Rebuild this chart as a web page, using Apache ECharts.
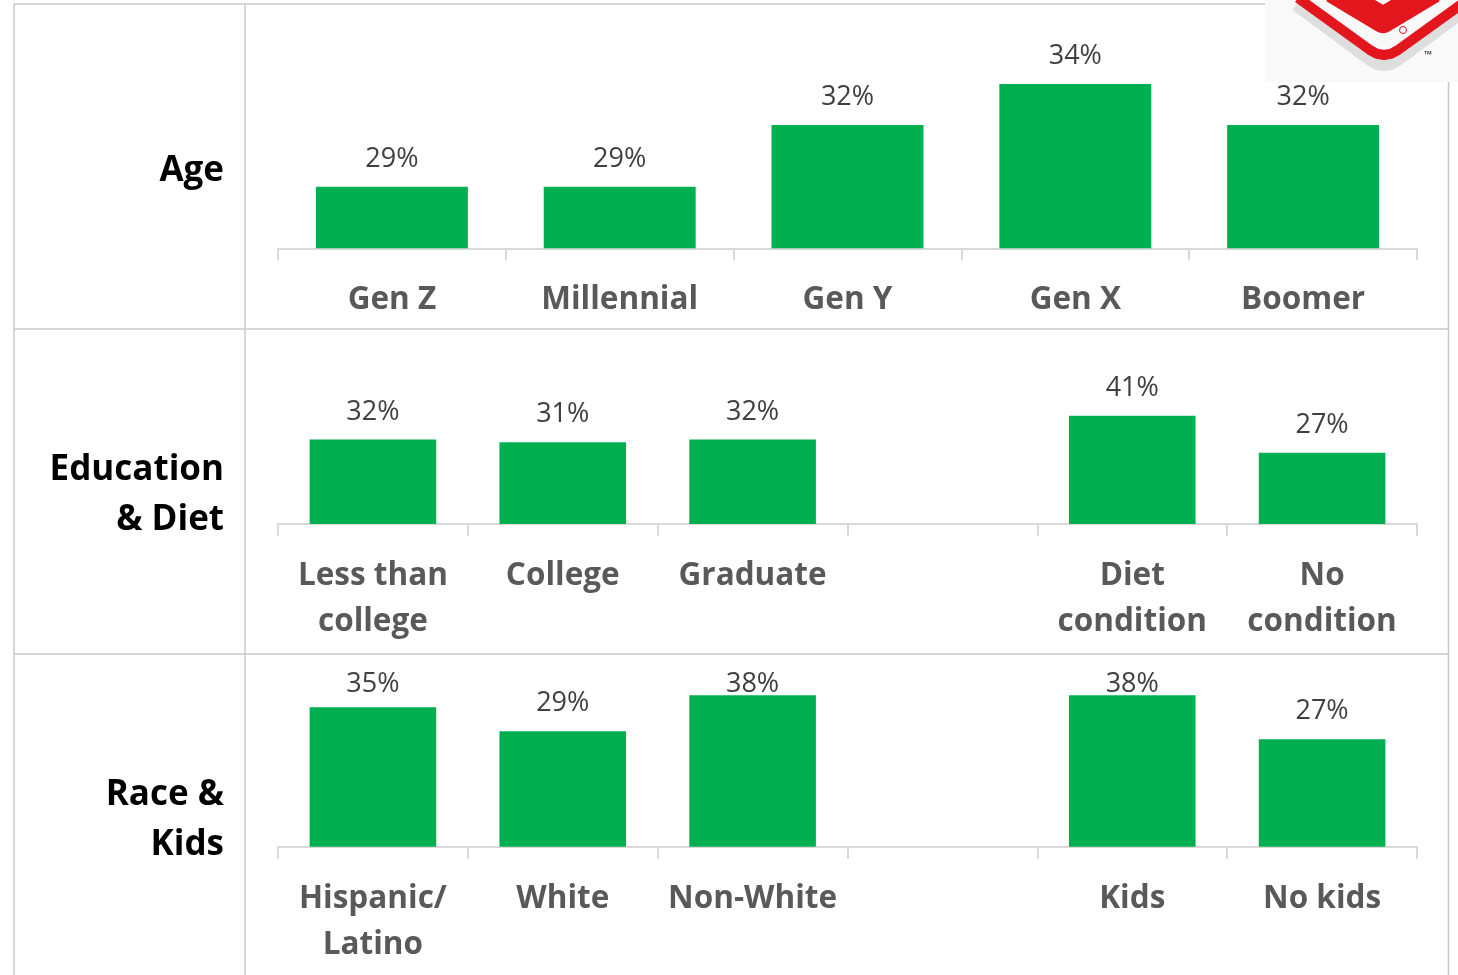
<!DOCTYPE html>
<html>
<head>
<meta charset="utf-8">
<title>Share by segment</title>
<script src="https://cdn.jsdelivr.net/npm/echarts@6/dist/echarts.min.js"></script>
<style>
  html, body { margin: 0; padding: 0; background: #ffffff; }
  #chart { width: 1458px; height: 975px; }
</style>
</head>
<body>
<div id="chart"></div>
<script>
// Segment data (percent)
const ageCategories = ['Gen Z', 'Millennial', 'Gen Y', 'Gen X', 'Boomer'];
const ageValues = [29, 29, 32, 34, 32];

const eduDietCategories = ['Less than\ncollege', 'College', 'Graduate', '', 'Diet\ncondition', 'No\ncondition'];
const eduDietValues = [32, 31, 32, null, 41, 27];

const raceKidsCategories = ['Hispanic/\nLatino', 'White', 'Non-White', '', 'Kids', 'No kids'];
const raceKidsValues = [35, 29, 38, null, 38, 27];

const rowTitles = ['Age', 'Education\n& Diet', 'Race &\nKids'];

const FONT = '"Open Sans", "Noto Sans", sans-serif';
const GREEN = '#00B050';
const AXIS_GREY = '#d9d9d9';
const TABLE_GREY = '#c8c8c8';
const BADGE_RED = '#e3151d';

// Row panels: each one is a grid sitting inside a table row
const plotLeft = 278, plotRight = 1417;
const panels = [
  { cats: ageCategories,      vals: ageValues,      min: 26, max: 36, top: 42.9,  height: 205.4 },
  { cats: eduDietCategories,  vals: eduDietValues,  min: 0,  max: 50, top: 392,   height: 132 },
  { cats: raceKidsCategories, vals: raceKidsValues, min: 0,  max: 40, top: 687.4, height: 159.3 }
];
// labels in the last row stay below this centre line
const raceLabelCeiling = 684;

const grids = [], xAxes = [], yAxes = [], series = [];
panels.forEach(function (p, i) {
  grids.push({ left: plotLeft, width: plotRight - plotLeft, top: p.top, height: p.height, containLabel: false });
  xAxes.push({
    type: 'category', gridIndex: i, data: p.cats,
    axisLine: { show: true, lineStyle: { color: AXIS_GREY, width: 2 } },
    axisTick: { show: true, length: 12, lineStyle: { color: AXIS_GREY, width: 2 } },
    axisLabel: {
      interval: 0, margin: 29, fontFamily: FONT, fontSize: 31.5, fontWeight: 'bold',
      color: '#595959', lineHeight: 46
    },
    splitLine: { show: false }
  });
  yAxes.push({ type: 'value', gridIndex: i, min: p.min, max: p.max, show: false, splitLine: { show: false } });
  const s = {
    type: 'bar', xAxisIndex: i, yAxisIndex: i, data: p.vals,
    barCategoryGap: '33.3%',
    itemStyle: { color: GREEN },
    label: {
      show: true, position: 'top', distance: 14, formatter: '{c}%',
      fontFamily: FONT, fontSize: 27, color: '#404040'
    },
    emphasis: { disabled: true },
    silent: true,
    animation: false
  };
  if (i === 2) {
    s.labelLayout = function (q) {
      const c = q.labelRect.y + q.labelRect.height / 2;
      return c < raceLabelCeiling ? { dy: raceLabelCeiling - c } : {};
    };
  }
  series.push(s);
});

// Table frame
function hLine(y, x1, x2) {
  return { type: 'line', silent: true, z: 1, shape: { x1: x1, y1: y, x2: x2, y2: y }, style: { stroke: TABLE_GREY, lineWidth: 1.5 } };
}
function vLine(x, y1, y2) {
  return { type: 'line', silent: true, z: 1, shape: { x1: x, y1: y1, x2: x, y2: y2 }, style: { stroke: TABLE_GREY, lineWidth: 1.5 } };
}
const graphics = [
  hLine(4, 14, 1449), hLine(329, 14, 1449), hLine(654, 14, 1449),
  vLine(14, 4, 975), vLine(245, 4, 975), vLine(1448.5, 4, 975)
];

// Row titles
const titleCentres = [171, 495, 820];
rowTitles.forEach(function (t, i) {
  graphics.push({
    type: 'text', silent: true, z: 5,
    style: {
      text: t, x: 224, y: titleCentres[i], align: 'right', verticalAlign: 'middle',
      fontFamily: FONT, fontSize: 35, fontWeight: 'bold', fill: '#000000', lineHeight: 50
    }
  });
});

// Badge in the top-right corner
graphics.push(
  { type: 'rect', silent: true, z: 20, shape: { x: 1265, y: 0, width: 193, height: 82 }, style: { fill: '#f9f9f9' } },
  { type: 'polyline', silent: true, z: 21,
    shape: { points: [[1296, 5], [1370, 60], [1377, 63.8], [1384, 65], [1391, 63.8], [1398, 60], [1468, 8]] },
    style: { fill: null, stroke: '#dedede', lineWidth: 12, lineJoin: 'round' } },
  { type: 'polyline', silent: true, z: 22,
    shape: { points: [[1298, -2], [1370, 50], [1377, 53.8], [1384, 55], [1391, 53.8], [1398, 50], [1466, 1]] },
    style: { fill: null, stroke: BADGE_RED, lineWidth: 10, lineJoin: 'round' } },
  { type: 'polyline', silent: true, z: 22,
    shape: { points: [[1333, -10], [1383, 20], [1433, -10]] },
    style: { fill: null, stroke: BADGE_RED, lineWidth: 26, lineJoin: 'round' } },
  { type: 'circle', silent: true, z: 23, shape: { cx: 1403, cy: 30, r: 3.5 },
    style: { fill: null, stroke: BADGE_RED, lineWidth: 1 } },
  { type: 'text', silent: true, z: 23,
    style: { text: '™', x: 1428, y: 55, align: 'center', verticalAlign: 'middle', fontFamily: FONT, fontSize: 10, fontWeight: 'bold', fill: '#222' } }
);

const chart = echarts.init(document.getElementById('chart'), null, { renderer: 'canvas' });
chart.setOption({
  animation: false,
  backgroundColor: '#ffffff',
  grid: grids,
  xAxis: xAxes,
  yAxis: yAxes,
  series: series,
  graphic: { elements: graphics }
});
</script>
</body>
</html>
